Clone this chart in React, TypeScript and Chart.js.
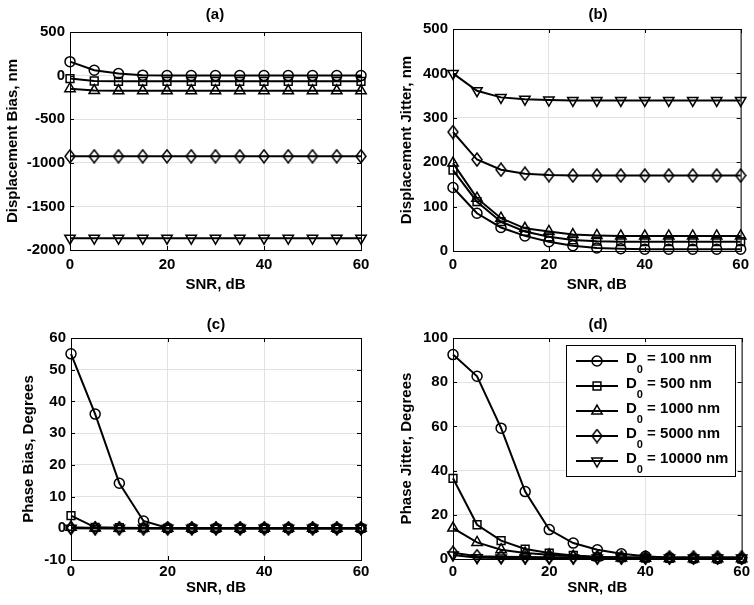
import React, { useEffect, useRef } from "react";
import { Chart, registerables } from "chart.js";

Chart.register(...registerables);

// ---------------- data ----------------
const snr = [0, 5, 10, 15, 20, 25, 30, 35, 40, 45, 50, 55, 60];
const legendNumbers = ["100", "500", "1000", "5000", "10000"];
const seriesNames = ["D0 = 100 nm", "D0 = 500 nm", "D0 = 1000 nm", "D0 = 5000 nm", "D0 = 10000 nm"];

// (a) Displacement Bias, nm
const biasD100 = [160, 62, 23, 5, 0, 0, 0, 0, 0, 0, 0, 0, 0];
const biasD500 = [-34, -62, -65, -65, -65, -65, -65, -65, -65, -65, -65, -65, -65];
const biasD1000 = [-150, -172, -175, -175, -175, -175, -175, -175, -175, -175, -175, -175, -175];
const biasD5000 = [-925, -925, -925, -925, -925, -925, -925, -925, -925, -925, -925, -925, -925];
const biasD10000 = [-1865, -1865, -1865, -1865, -1865, -1865, -1865, -1865, -1865, -1865, -1865, -1865, -1865];

// (b) Displacement Jitter, nm
const jitD100 = [143, 85, 53, 34, 21, 12, 7, 5, 4, 4, 4, 4, 4];
const jitD500 = [182, 111, 66, 44, 32, 25, 22, 21, 21, 21, 21, 21, 21];
const jitD1000 = [198, 119, 74, 51, 44, 37, 35, 34, 34, 34, 34, 34, 34];
const jitD5000 = [268, 206, 183, 174, 171, 170, 170, 170, 170, 170, 170, 170, 170];
const jitD10000 = [400, 361, 346, 342, 340, 339, 339, 339, 339, 339, 339, 339, 339];

// (c) Phase Bias, Degrees
const pbD100 = [55, 36, 14.2, 2.3, 0.1, 0, 0, 0, 0, 0, 0, 0, 0];
const pbD500 = [4, 0.3, 0.2, 0.1, 0, 0, 0, 0, 0, 0, 0, 0, 0];
const pbD1000 = [0.3, 0.1, 0, 0, 0, 0, 0, 0, 0, 0, 0, 0, 0];
const pbD5000 = [0.1, 0, 0, 0, 0, 0, 0, 0, 0, 0, 0, 0, 0];
const pbD10000 = [0, 0, 0, 0, 0, 0, 0, 0, 0, 0, 0, 0, 0];

// (d) Phase Jitter, Degrees
const pjD100 = [92.5, 82.7, 59.2, 30.5, 13.3, 7.2, 4.2, 2.4, 1.2, 0.6, 0.3, 0.2, 0.1];
const pjD500 = [36.5, 15.5, 8.3, 4.5, 2.7, 1.6, 1.0, 0.6, 0.4, 0.3, 0.2, 0.1, 0.1];
const pjD1000 = [14, 7.5, 4.2, 2.7, 1.9, 1.2, 0.8, 0.5, 0.3, 0.2, 0.1, 0.1, 0.1];
const pjD5000 = [2.8, 1.3, 1.0, 0.9, 0.8, 0.8, 0.8, 0.8, 0.8, 0.8, 0.8, 0.8, 0.8];
const pjD10000 = [1.8, 0.6, 0.5, 0.5, 0.5, 0.5, 0.5, 0.5, 0.5, 0.5, 0.5, 0.5, 0.5];

const xTicksStep = 20;

// ---------------- styling ----------------
const FAMILY = "'Liberation Sans', Arial, Helvetica, sans-serif";
const FS = 15;
const HALF_LH = (FS * 1.2) / 2;
const FONT = { family: FAMILY, size: FS, weight: "bold" as const, lineHeight: 1.2 };
const GRID = "#e2e2e2";
const INK = "#000";

type Spec = {
  key: string;
  left: number;
  top: number;
  width: number;
  height: number;
  area: { l: number; t: number; r: number; b: number };
  title: string;
  titleX: number;
  titleY: number;
  yTitle: string;
  yTitleX: number;
  xTitleY: number;
  xTickPad: number;
  yMin: number;
  yMax: number;
  yStep: number;
  series: number[][];
  legend: boolean;
};

const specs: Spec[] = [
  {
    key: "a", left: 0, top: 0, width: 377, height: 300,
    area: { l: 70, t: 32, r: 361, b: 250 },
    title: "(a)", titleX: 215, titleY: 15,
    yTitle: "Displacement Bias, nm", yTitleX: 12.5, xTitleY: 284.5, xTickPad: 6,
    yMin: -2000, yMax: 500, yStep: 500,
    series: [biasD100, biasD500, biasD1000, biasD5000, biasD10000], legend: false,
  },
  {
    key: "b", left: 377, top: 0, width: 377, height: 300,
    area: { l: 76, t: 29, r: 366, b: 251 },
    title: "(b)", titleX: 221, titleY: 15,
    yTitle: "Displacement Jitter, nm", yTitleX: 30, xTitleY: 284.5, xTickPad: 5,
    yMin: 0, yMax: 500, yStep: 100,
    series: [jitD100, jitD500, jitD1000, jitD5000, jitD10000], legend: false,
  },
  {
    key: "c", left: 0, top: 300, width: 377, height: 305,
    area: { l: 71, t: 38, r: 361, b: 260 },
    title: "(c)", titleX: 216, titleY: 25,
    yTitle: "Phase Bias, Degrees", yTitleX: 29, xTitleY: 288, xTickPad: 3,
    yMin: -10, yMax: 60, yStep: 10,
    series: [pbD100, pbD500, pbD1000, pbD5000, pbD10000], legend: false,
  },
  {
    key: "d", left: 377, top: 300, width: 377, height: 305,
    area: { l: 76, t: 38, r: 366, b: 259 },
    title: "(d)", titleX: 221, titleY: 25,
    yTitle: "Phase Jitter, Degrees", yTitleX: 30, xTitleY: 288, xTickPad: 4,
    yMin: 0, yMax: 100, yStep: 20,
    series: [pjD100, pjD500, pjD1000, pjD5000, pjD10000], legend: true,
  },
];

function makeDiamond(): HTMLCanvasElement {
  const c = document.createElement("canvas");
  c.width = 12;
  c.height = 15;
  const ctx = c.getContext("2d")!;
  ctx.strokeStyle = INK;
  ctx.lineWidth = 1.5;
  ctx.beginPath();
  ctx.moveTo(6, 1);
  ctx.lineTo(11, 7.5);
  ctx.lineTo(6, 14);
  ctx.lineTo(1, 7.5);
  ctx.closePath();
  ctx.stroke();
  return c;
}

const pointStyles = ["circle", "rect", "triangle", "diamond", "triangle"];
const pointRotations = [0, 0, 0, 0, 180];
const pointRadii = [5, 5.5, 6, 6, 6];

function drawMarker(ctx: CanvasRenderingContext2D, i: number, x: number, y: number, diamond: HTMLCanvasElement) {
  ctx.save();
  ctx.strokeStyle = INK;
  ctx.lineWidth = 1.5;
  if (i === 3) {
    ctx.drawImage(diamond, x - diamond.width / 2, y - diamond.height / 2);
    ctx.restore();
    return;
  }
  ctx.beginPath();
  if (i === 0) {
    ctx.arc(x, y, pointRadii[0], 0, Math.PI * 2);
  } else if (i === 1) {
    const h = pointRadii[1] * Math.SQRT1_2;
    ctx.rect(x - h, y - h, 2 * h, 2 * h);
  } else {
    const r = pointRadii[i];
    let rad = (pointRotations[i] * Math.PI) / 180;
    ctx.moveTo(x + Math.sin(rad) * r, y - Math.cos(rad) * r);
    rad += (2 * Math.PI) / 3;
    ctx.lineTo(x + Math.sin(rad) * r, y - Math.cos(rad) * r);
    rad += (2 * Math.PI) / 3;
    ctx.lineTo(x + Math.sin(rad) * r, y - Math.cos(rad) * r);
    ctx.closePath();
  }
  ctx.stroke();
  ctx.restore();
}

function framePlugin(s: Spec, diamond: HTMLCanvasElement) {
  return {
    id: "frame_" + s.key,
    afterDraw(chart: any) {
      const ctx: CanvasRenderingContext2D = chart.ctx;
      const a = chart.chartArea;
      const xs = chart.scales.x;
      const ys = chart.scales.y;
      ctx.save();
      ctx.strokeStyle = INK;
      ctx.lineWidth = 1;
      const tl = 4;
      ctx.beginPath();
      xs.ticks.forEach((t: any) => {
        const px = Math.round(xs.getPixelForValue(t.value)) + 0.5;
        ctx.moveTo(px, a.bottom);
        ctx.lineTo(px, a.bottom - tl);
        ctx.moveTo(px, a.top);
        ctx.lineTo(px, a.top + tl);
      });
      ys.ticks.forEach((t: any) => {
        const py = Math.round(ys.getPixelForValue(t.value)) + 0.5;
        ctx.moveTo(a.left, py);
        ctx.lineTo(a.left + tl, py);
        ctx.moveTo(a.right, py);
        ctx.lineTo(a.right - tl, py);
      });
      ctx.stroke();
      ctx.strokeRect(a.left + 0.5, a.top + 0.5, a.right - a.left, a.bottom - a.top);

      // panel title
      ctx.fillStyle = INK;
      ctx.font = `bold ${FS}px ${FAMILY}`;
      ctx.textAlign = "center";
      ctx.textBaseline = "middle";
      ctx.fillText(s.title, s.titleX, s.titleY);

      if (s.legend) {
        const bx = 189, by = 45, bw = 169, bh = 131;
        ctx.fillStyle = "#fff";
        ctx.fillRect(bx, by, bw, bh);
        ctx.strokeStyle = INK;
        ctx.lineWidth = 1;
        ctx.strokeRect(bx + 0.5, by + 0.5, bw, bh);
        legendNumbers.forEach((n, i) => {
          const y = 61 + i * 25;
          ctx.strokeStyle = INK;
          ctx.lineWidth = 2;
          ctx.beginPath();
          ctx.moveTo(199, y);
          ctx.lineTo(241, y);
          ctx.stroke();
          drawMarker(ctx, i, 220, y, diamond);
          ctx.fillStyle = INK;
          ctx.textAlign = "left";
          ctx.textBaseline = "middle";
          ctx.font = `bold ${FS}px ${FAMILY}`;
          let x = 249;
          ctx.fillText("D", x, y - 2);
          x += ctx.measureText("D").width;
          ctx.font = `bold 11px ${FAMILY}`;
          ctx.fillText("0", x, y + 9);
          x += ctx.measureText("0").width;
          ctx.font = `bold ${FS}px ${FAMILY}`;
          ctx.fillText(` = ${n} nm`, x, y - 2);
        });
      }
      ctx.restore();
    },
  };
}

function buildConfig(s: Spec, diamond: HTMLCanvasElement): any {
  const datasets = s.series.map((vals, i) => ({
    label: seriesNames[i],
    data: snr.map((x, j) => ({ x, y: vals[j] })),
    borderColor: INK,
    borderWidth: 2,
    pointStyle: pointStyles[i] === "diamond" ? diamond : pointStyles[i],
    pointRotation: pointRotations[i],
    pointRadius: pointRadii[i],
    pointBorderWidth: 1.5,
    pointBorderColor: INK,
    pointBackgroundColor: "rgba(0,0,0,0)",
    fill: false,
    tension: 0,
    clip: false,
  }));
  return {
    type: "line",
    data: { datasets },
    options: {
      animation: false,
      responsive: false,
      events: [],
      layout: { padding: { left: 0, top: s.area.t, right: s.width - s.area.r, bottom: 0 } },
      plugins: {
        legend: { display: false },
        title: { display: false },
        tooltip: { enabled: false },
      },
      scales: {
        x: {
          type: "linear",
          min: 0,
          max: 60,
          ticks: {
            stepSize: xTicksStep,
            color: INK,
            font: FONT,
            padding: s.xTickPad,
            maxRotation: 0,
            callback: (v: number) => String(v),
          },
          grid: { color: GRID, drawTicks: false, lineWidth: 1 },
          border: { display: false },
          title: {
            display: true,
            text: "SNR, dB",
            color: INK,
            font: FONT,
            padding: { top: 0, bottom: s.height - s.xTitleY - HALF_LH },
          },
          afterFit: (sc: any) => {
            sc.height = s.height - s.area.b;
          },
        },
        y: {
          type: "linear",
          min: s.yMin,
          max: s.yMax,
          ticks: {
            stepSize: s.yStep,
            color: INK,
            font: FONT,
            padding: 5,
            callback: (v: number) => String(v),
          },
          grid: { color: GRID, drawTicks: false, lineWidth: 1 },
          border: { display: false },
          title: {
            display: true,
            text: s.yTitle,
            color: INK,
            font: FONT,
            padding: { top: s.yTitleX - HALF_LH, bottom: 0 },
          },
          afterFit: (sc: any) => {
            sc.width = s.area.l;
          },
        },
      },
    },
    plugins: [framePlugin(s, diamond)],
  };
}

function Panel({ spec }: { spec: Spec }) {
  const ref = useRef<HTMLCanvasElement | null>(null);
  useEffect(() => {
    if (!ref.current) return;
    const diamond = makeDiamond();
    const chart = new Chart(ref.current, buildConfig(spec, diamond));
    return () => chart.destroy();
  }, [spec]);
  return (
    <canvas
      ref={ref}
      width={spec.width}
      height={spec.height}
      style={{
        position: "absolute",
        left: spec.left,
        top: spec.top,
        width: spec.width,
        height: spec.height,
        display: "block",
      }}
    />
  );
}

export default function App() {
  return (
    <div
      style={{
        position: "absolute",
        left: 0,
        top: 0,
        width: 754,
        height: 605,
        background: "#fff",
        overflow: "hidden",
      }}
    >
      {specs.map((s) => (
        <Panel key={s.key} spec={s} />
      ))}
    </div>
  );
}
